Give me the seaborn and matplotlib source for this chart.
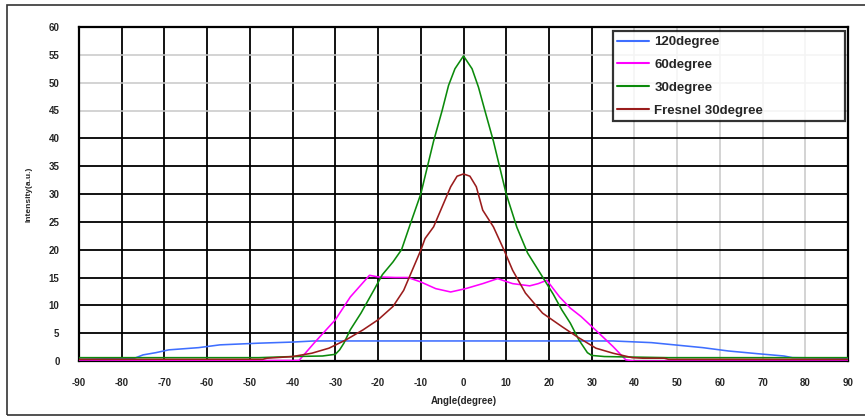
import matplotlib
matplotlib.use("Agg")
import matplotlib.pyplot as plt
from matplotlib.patches import Rectangle
import seaborn as sns
import pandas as pd

# ==========================================
#                 DATA
# ==========================================

series_names = ["120degree", "60degree", "30degree", "Fresnel 30degree"]
series_colors = ["#3f6fff", "#ff00ff", "#0b8a0b", "#9a1c1c"]

# 120degree
angle_120 = [-90, -77, -75, -72, -69, -62, -57, -48, -40, -35, 35, 44, 48, 56, 62, 69, 75, 77, 90]
inten_120 = [0.3, 0.5, 1.1, 1.5, 2.0, 2.4, 2.9, 3.2, 3.4, 3.6, 3.6, 3.3, 3.0, 2.4, 1.8, 1.3, 0.9, 0.6, 0.5]

# 60degree
angle_60 = [-90, -38.5, -35, -30, -26.5, -22, -20, -16, -13, -10, -6.5, -3, 0.5, 4.5, 8,
            11.5, 15.5, 17.5, 19.5, 22.5, 25, 27.5, 31, 35, 38, 40, 90]
inten_60 = [0.0, 0.1, 3.2, 7.4, 11.5, 15.4, 15.1, 15.0, 15.0, 14.2, 13.0, 12.4, 13.0, 13.9, 14.8,
            13.9, 13.5, 13.9, 14.5, 11.5, 9.5, 8.0, 5.5, 2.6, 0.2, 0.0, 0.0]

# 30degree
angle_30 = [-90, -48, -40, -33, -30, -29, -28, -26.5, -24, -21, -19, -16.5, -14.5, -12.5, -10,
            -7, -5, -3.5, -2, 0, 2, 3.5, 5, 7, 10, 12.5, 15, 18.5, 21, 23, 25, 27, 29, 30, 33,
            40, 48, 90]
inten_30 = [0.6, 0.6, 0.8, 0.9, 1.2, 2.0, 3.2, 5.6, 8.6, 12.7, 15.5, 17.8, 20.0, 24.5, 30.0,
            39.5, 45.0, 49.5, 52.5, 54.8, 52.5, 49.2, 45.0, 39.5, 30.0, 24.0, 19.4, 15.1, 12.0, 9.2,
            6.8, 3.8, 1.5, 1.0, 0.8, 0.7, 0.6, 0.6]

# Fresnel 30degree
angle_fr = [-90, -47, -46, -40, -35.5, -31.5, -27.5, -23.5, -20, -16.5, -14, -12, -10, -9, -7,
            -5, -3, -1.5, 0, 1.5, 3, 4.5, 7, 9.5, 11.5, 14.5, 18.5, 23, 26.5, 31, 35, 39.5, 42,
            47, 48, 90]
inten_fr = [0.3, 0.3, 0.5, 0.8, 1.4, 2.3, 3.8, 5.6, 7.4, 9.8, 12.7, 16.3, 19.9, 22.0, 24.1,
            27.7, 31.3, 33.2, 33.6, 33.2, 31.3, 27.1, 24.1, 19.9, 16.3, 12.2, 8.6, 6.2, 4.4, 2.3,
            1.4, 0.6, 0.5, 0.5, 0.3, 0.3]

x_ticks = list(range(-90, 91, 10))
y_ticks = list(range(0, 61, 5))

df = pd.concat([
    pd.DataFrame({"angle": angle_120, "intensity": inten_120, "series": series_names[0]}),
    pd.DataFrame({"angle": angle_60, "intensity": inten_60, "series": series_names[1]}),
    pd.DataFrame({"angle": angle_30, "intensity": inten_30, "series": series_names[2]}),
    pd.DataFrame({"angle": angle_fr, "intensity": inten_fr, "series": series_names[3]}),
], ignore_index=True)

# ==========================================
#                 PLOT
# ==========================================

sns.set_style("white")
plt.rcParams["font.family"] = ["Liberation Sans", "DejaVu Sans"]

fig = plt.figure(figsize=(8.65, 4.18), dpi=100)
ax = fig.add_axes([79 / 865, 57 / 418, 769 / 865, 334 / 418])

sns.lineplot(data=df, x="angle", y="intensity", hue="series", hue_order=series_names,
             palette=series_colors, sort=False, estimator=None, linewidth=1.15, ax=ax)
# curves sit on top of the axis frame, like the original
for ln in ax.lines:
    ln.set_zorder(3)

ax.set_xlim(-90, 90)
ax.set_ylim(0, 60)
ax.set_xticks(x_ticks)
ax.set_yticks(y_ticks)
ax.set_xticklabels([str(t) for t in x_ticks], fontsize=7, fontweight="bold")
ax.set_yticklabels([str(t) for t in y_ticks], fontsize=7, fontweight="bold")
ax.tick_params(axis="x", length=3, width=1, pad=9, color="black")
ax.tick_params(axis="y", length=0, pad=14)

# grid: black in the lower-left block, light grey elsewhere (as in the scan)
ax.set_axisbelow(True)
ax.grid(True)
for t, gl in zip(x_ticks, ax.xaxis.get_gridlines()):
    if t <= 30:
        gl.set_color("black"); gl.set_linewidth(1.3)
    else:
        gl.set_color("#c8c8c8"); gl.set_linewidth(1.1)
for t, gl in zip(y_ticks, ax.yaxis.get_gridlines()):
    if t <= 40:
        gl.set_color("black"); gl.set_linewidth(1.3)
    else:
        gl.set_color("#c8c8c8"); gl.set_linewidth(1.1)

for sp in ax.spines.values():
    sp.set_visible(True)
    sp.set_color("black")
    sp.set_linewidth(1.6)

ax.set_xlabel("Angle(degree)", fontsize=7, fontweight="bold", labelpad=6)
ax.set_ylabel("Intensity(a.u.)", fontsize=6, fontweight="bold", labelpad=12)

leg = ax.legend(loc="upper left", bbox_to_anchor=(0.694, 0.712, 0.302, 0.275), mode="expand",
                frameon=True, fancybox=False, fontsize=9.5, handlelength=2.4,
                handletextpad=0.4, labelspacing=0.8, borderpad=0.35, borderaxespad=0)
leg.set_zorder(5)
for txt in leg.get_texts():
    txt.set_fontweight("bold")
leg.get_frame().set_edgecolor("black")
leg.get_frame().set_linewidth(1.6)
for h in leg.get_lines():
    h.set_linewidth(1.5)

# outer chart frame (open on the right, like the cropped original)
fig.patches.append(Rectangle((7 / 865, 3 / 418), 1.5, 410 / 418, transform=fig.transFigure,
                             fill=False, edgecolor="#333333", linewidth=1.2))

plt.savefig("out.png", dpi=100)
plt.close()
